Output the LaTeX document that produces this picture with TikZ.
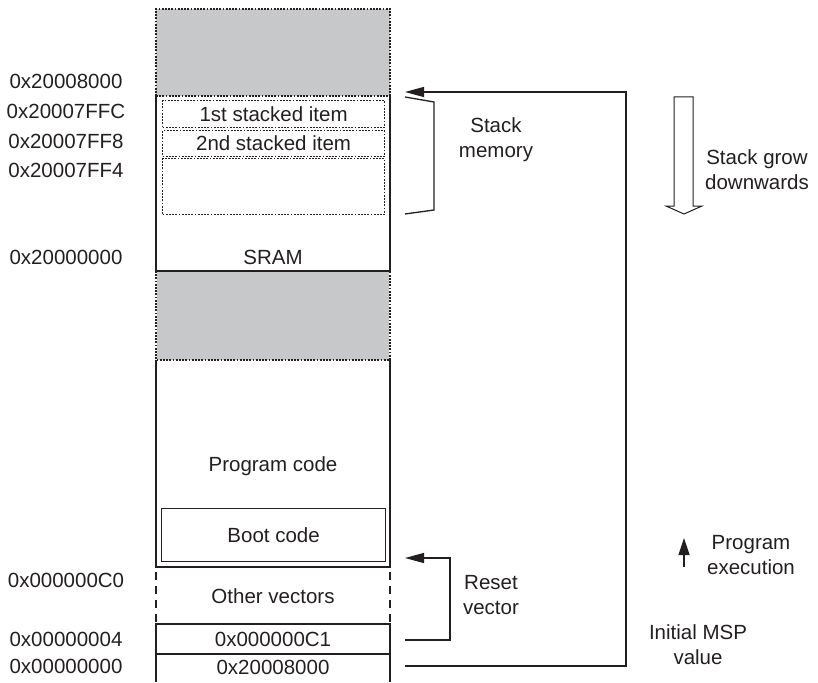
\documentclass[tikz,border=0pt]{standalone}
\usepackage{fontspec}
\setmainfont{Liberation Sans}
\usetikzlibrary{arrows.meta}
\definecolor{ink}{RGB}{35,31,32}
\definecolor{graybg}{RGB}{199,200,202}
\begin{document}
\begin{tikzpicture}[x=1pt,y=-1pt,
  every node/.style={font=\fontsize{20.5pt}{25pt}\selectfont, text=ink, inner sep=0pt},
  one/.style={text height=14.7pt, text depth=0pt},
  solidline/.style={draw=ink, line width=1.2pt},
  dotline/.style={draw=ink, line width=1.2pt, dash pattern=on 1.8pt off 1.4pt},
  dashline/.style={draw=ink, line width=1.2pt, dash pattern=on 8pt off 6pt},
  conn/.style={draw=ink, line width=1.3pt},
  tip/.style={-{Triangle[length=19pt,width=10pt]}},
  lbl/.style={align=center},
]
\useasboundingbox (0,0) rectangle (818,682);

% ---- top gray (unused) region ----
\fill[graybg] (156,9) rectangle (390,96);
\draw[dotline] (156,96) -- (156,9) -- (390,9) -- (390,96);
% ---- SRAM region ----
\draw[solidline] (156,96) -- (156,271) -- (390,271) -- (390,96);
\draw[dotline] (156,96) -- (390,96);
\node[dotline, one, minimum width=222pt, minimum height=27pt, anchor=north west] (item1) at (162,100) {};
\node[one] (t1) at (item1.center) {1st stacked item};
\node[dotline, minimum width=222pt, minimum height=26pt, anchor=north west] (item2) at (162,130) {};
\node[one] (t2) at (item2.center) {2nd stacked item};
\node[dotline, minimum width=222pt, minimum height=56pt, anchor=north west] (item3) at (162,158) {};
\node[one] (sram) at (273,257) {SRAM};
% ---- middle gray region ----
\fill[graybg] (157,272) rectangle (389,360);
\draw[dotline] (156,271) -- (156,360) -- (390,360) -- (390,271);
% ---- program code region ----
\draw[solidline] (156,360) -- (156,567) -- (390,567) -- (390,360);
\node[one] (prog) at (273,464) {Program code};
\node[solidline, minimum width=224pt, minimum height=53pt, anchor=north west] (boot) at (161,508) {};
\node[one] (boottxt) at (boot.center) {Boot code};
% ---- other vectors ----
\draw[dashline] (156,572) -- (156,624);
\draw[dashline] (390,572) -- (390,624);
\node[one] (other) at (273,596) {Other vectors};
% ---- reset vector entry ----
\draw[solidline] (156,624) rectangle (390,654);
\node[one] (rv) at (273,639) {0x000000C1};
% ---- initial MSP entry ----
\draw[solidline] (156,654) -- (156,682);
\draw[solidline] (390,654) -- (390,682);
\node[one] (mspv) at (273,667) {0x20008000};

% ---- address labels ----
\node[one] (a1) at (66,81) {0x20008000};
\node[one] (a2) at (66,111) {0x20007FFC};
\node[one] (a3) at (66,141) {0x20007FF8};
\node[one] (a4) at (66,170) {0x20007FF4};
\node[one] (a5) at (66,257) {0x20000000};
\node[one] (a6) at (66,580) {0x000000C0};
\node[one] (a7) at (66,639) {0x00000004};
\node[one] (a8) at (66,666) {0x00000000};

% ---- connectors ----
\coordinate (mspout) at (405,666);
\coordinate (stacktop) at (405,92);
\coordinate (loopR) at (626,400);
\draw[conn,tip] (mspout) -- (mspout -| loopR) -- (stacktop -| loopR) -- (stacktop);

\coordinate (rvout) at (405,640);
\coordinate (bootin) at (405,558);
\coordinate (rvR) at (450,600);
\draw[conn,tip] (rvout) -- (rvout -| rvR) -- (bootin -| rvR) -- (bootin);

% stack bracket
\draw[conn, line join=miter] (405,97) -- (434,102) -- (434,210) -- (405,214);
\node[lbl] (stackmem) at (496,140) {Stack\\memory};

% hollow grow arrow
\draw[draw=ink, line width=1pt, fill=white] (674,97) -- (693,97) -- (693,206) -- (702,206) -- (684,214) -- (666,206) -- (674,206) -- cycle;
\node[lbl] (grow) at (757,170) {Stack grow\\downwards};

% program execution
\coordinate (exfrom) at (684,567);
\coordinate (exto) at (684,538);
\draw[conn, -{Triangle[length=17pt,width=11pt]}] (exfrom) -- (exto);
\node[lbl] (exec) at (751,555) {Program\\execution};

\node[lbl] (resetlbl) at (491,595) {Reset\\vector};
\node[lbl] (msplbl) at (698,645) {Initial MSP\\value};
\end{tikzpicture}
\end{document}
